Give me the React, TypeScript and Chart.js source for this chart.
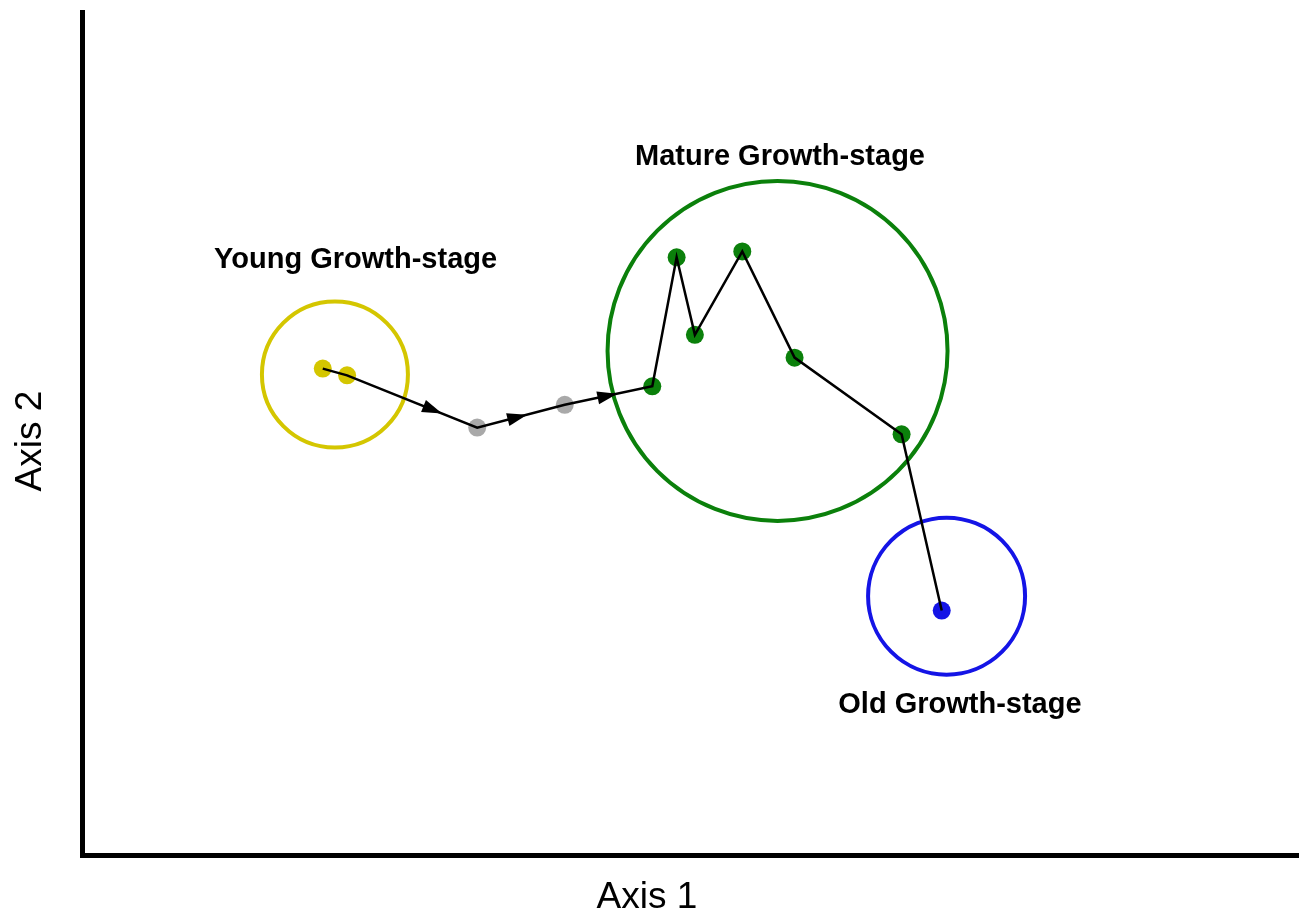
import React, { useEffect, useRef } from "react";
import { Chart, registerables } from "chart.js";

Chart.register(...registerables);

// Ordination trajectory (arbitrary axis units, 0–100)
const youngPoints = [
  { x: 19.8, y: 57.7 },
  { x: 21.8, y: 56.9 },
];
const transitionPoints = [
  { x: 32.5, y: 50.7 },
  { x: 39.7, y: 53.4 },
];
const maturePoints = [
  { x: 46.9, y: 55.6 },
  { x: 48.9, y: 70.9 },
  { x: 50.4, y: 61.7 },
  { x: 54.3, y: 71.6 },
  { x: 58.6, y: 59.0 },
  { x: 67.4, y: 49.9 },
];
const oldPoints = [{ x: 70.7, y: 29.0 }];

// Stage envelopes: centre in axis units, radius in pixels
const stageCircles = [
  { x: 20.8, y: 57.0, r: 73 },
  { x: 57.2, y: 59.8, r: 170 },
  { x: 71.1, y: 30.7, r: 78.5 },
];
const stageNames = ["Young Growth-stage", "Mature Growth-stage", "Old Growth-stage"];
const stageLabelAnchors = [
  { x: 22.5, y: 69.6 },
  { x: 57.4, y: 81.9 },
  { x: 72.2, y: 16.8 },
];
// Segments of the path that carry an arrowhead (index of segment start) and where the tip sits
const arrowSegments = [1, 2, 3];
const arrowFractions = [0.73, 0.57, 0.6];

const axisTitles = ["Axis 1", "Axis 2"];

const YELLOW = "#d4c600";
const GREY = "#a9a9a9";
const GREEN = "#0b800b";
const BLUE = "#1414e6";
const FONT = '"Liberation Sans", Arial, sans-serif';

const pathPoints = [...youngPoints, ...transitionPoints, ...maturePoints, ...oldPoints];

const annotationPlugin = {
  id: "annotations",
  afterDatasetsDraw(chart: any) {
    const { ctx, scales } = chart;
    const xs = scales.x;
    const ys = scales.y;
    ctx.save();
    ctx.fillStyle = "#000";
    arrowSegments.forEach((si, k) => {
      const a = pathPoints[si];
      const b = pathPoints[si + 1];
      const ax = xs.getPixelForValue(a.x);
      const ay = ys.getPixelForValue(a.y);
      const bx = xs.getPixelForValue(b.x);
      const by = ys.getPixelForValue(b.y);
      const f = arrowFractions[k];
      const tx = ax + (bx - ax) * f;
      const ty = ay + (by - ay) * f;
      const ang = Math.atan2(by - ay, bx - ax);
      const len = 20;
      const hw = 6.5;
      ctx.beginPath();
      ctx.moveTo(tx, ty);
      ctx.lineTo(
        tx - len * Math.cos(ang) + hw * Math.sin(ang),
        ty - len * Math.sin(ang) - hw * Math.cos(ang)
      );
      ctx.lineTo(
        tx - len * Math.cos(ang) - hw * Math.sin(ang),
        ty - len * Math.sin(ang) + hw * Math.cos(ang)
      );
      ctx.closePath();
      ctx.fill();
    });
    ctx.restore();
  },
  afterDraw(chart: any) {
    const { ctx, scales } = chart;
    const xs = scales.x;
    const ys = scales.y;
    ctx.save();
    ctx.fillStyle = "#000";
    ctx.textAlign = "center";
    ctx.textBaseline = "alphabetic";
    ctx.font = `bold 29px ${FONT}`;
    stageNames.forEach((name, i) => {
      const p = stageLabelAnchors[i];
      ctx.fillText(name, xs.getPixelForValue(p.x), ys.getPixelForValue(p.y));
    });
    ctx.font = `37px ${FONT}`;
    ctx.fillText(axisTitles[0], 647, 908);
    ctx.translate(41, 441);
    ctx.rotate(-Math.PI / 2);
    ctx.fillText(axisTitles[1], 0, 0);
    ctx.restore();
  },
};

export default function App() {
  const ref = useRef<HTMLCanvasElement | null>(null);
  useEffect(() => {
    if (!ref.current) return;
    const circleColors = [YELLOW, GREEN, BLUE];
    const chart = new Chart(ref.current, {
      type: "scatter",
      data: {
        datasets: [
          {
            type: "line",
            label: "trajectory",
            data: pathPoints,
            borderColor: "#000",
            borderWidth: 2.5,
            pointRadius: 0,
            tension: 0,
            fill: false,
            order: 0,
          } as any,
          {
            label: "young",
            data: youngPoints,
            backgroundColor: YELLOW,
            borderWidth: 0,
            pointRadius: 9,
            order: 1,
          },
          {
            label: "transition",
            data: transitionPoints,
            backgroundColor: GREY,
            borderWidth: 0,
            pointRadius: 9,
            order: 1,
          },
          {
            label: "mature",
            data: maturePoints,
            backgroundColor: GREEN,
            borderWidth: 0,
            pointRadius: 9,
            order: 1,
          },
          {
            label: "old",
            data: oldPoints,
            backgroundColor: BLUE,
            borderWidth: 0,
            pointRadius: 9,
            order: 1,
          },
          {
            type: "bubble",
            label: "stages",
            data: stageCircles,
            backgroundColor: "rgba(0,0,0,0)",
            borderColor: circleColors,
            borderWidth: 4,
            order: 2,
          } as any,
        ],
      },
      options: {
        animation: false,
        responsive: false,
        events: [],
        layout: { autoPadding: false, padding: { left: 82, right: 4, top: 12, bottom: 56 } },
        plugins: {
          legend: { display: false },
          tooltip: { enabled: false },
          title: { display: false },
        },
        scales: {
          x: {
            type: "linear",
            min: 0,
            max: 100,
            grid: { display: false, drawTicks: false },
            ticks: { display: false },
            border: { display: true, color: "#000", width: 5 },
            title: { display: false },
          },
          y: {
            type: "linear",
            min: 0,
            max: 100,
            grid: { display: false, drawTicks: false },
            ticks: { display: false },
            border: { display: true, color: "#000", width: 5 },
            title: { display: false },
          },
        },
      },
      plugins: [annotationPlugin],
    });
    return () => chart.destroy();
  }, []);
  return (
    <div style={{ position: "fixed", left: 0, top: 0, width: 1302, height: 911, background: "#fff" }}>
      <canvas ref={ref} width={1302} height={911} style={{ display: "block" }} />
    </div>
  );
}
